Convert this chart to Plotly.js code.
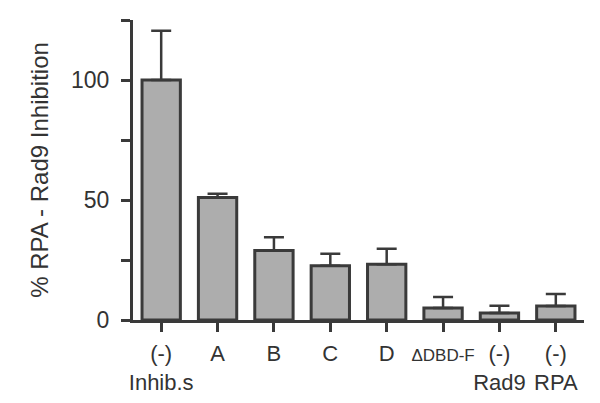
<!DOCTYPE html>
<html>
<head>
<meta charset="utf-8">
<script src="https://cdn.plot.ly/plotly-3.0.1.min.js"></script>
<style>
  html, body { margin: 0; padding: 0; background: #fff; }
  #chart { width: 600px; height: 403px; }
</style>
</head>
<body>
<div id="chart"></div>
<script>
// bar categories and values
var categories = ['inhib', 'A', 'B', 'C', 'D', 'dDBDF', 'rad9', 'rpa'];
var tick_labels = ['(-)<br>Inhib.s', 'A', 'B', 'C', 'D',
                   '<span style="font-size:17px">\u0394DBD-F</span>',
                   '(-)<br>Rad9', '(-)<br>RPA'];
var inhibition = [100, 51, 29, 22.6, 23.2, 5, 2.9, 5.8];
var error_up = [20.5, 1.6, 5.5, 5.0, 6.5, 4.6, 3.0, 5.0];
var error_down = [0, 0, 0, 0, 0, 0, 0, 0];

var dark = '#3a3a3a';

var bars = {
    type: 'bar',
    x: categories,
    y: inhibition,
    width: 0.68,
    marker: { color: '#adadad', line: { color: dark, width: 3 } },
    error_y: {
        type: 'data', symmetric: false,
        array: error_up, arrayminus: error_down,
        color: dark, thickness: 2.5, width: 10
    },
    hoverinfo: 'none'
};

var layout = {
    width: 600, height: 403,
    margin: { l: 133, r: 16, t: 20, b: 83 },
    paper_bgcolor: '#fff', plot_bgcolor: '#fff',
    showlegend: false,
    font: { family: 'Liberation Sans, Arial, sans-serif', color: '#333' },
    xaxis: {
        type: 'category',
        tickvals: categories, ticktext: tick_labels,
        range: [-0.5, 7.5],
        tickangle: 0,
        showline: true, linecolor: dark, linewidth: 3,
        ticks: 'outside', ticklen: 9, tickwidth: 3, tickcolor: dark,
        tickfont: { size: 22, color: '#333' },
        ticklabelstandoff: 3,
        showgrid: false, zeroline: false
    },
    yaxis: {
        range: [0, 125],
        tickvals: [0, 25, 50, 75, 100, 125],
        ticktext: ['0', '', '50', '', '100', ''],
        showline: true, linecolor: dark, linewidth: 3,
        ticks: 'outside', ticklen: 9, tickwidth: 3, tickcolor: dark,
        tickfont: { size: 23, color: '#333' },
        ticklabelstandoff: 7,
        showgrid: false, zeroline: false,
        title: { text: '% RPA - Rad9 Inhibition', font: { size: 24, color: '#333' }, standoff: 16 }
    }
};

Plotly.newPlot('chart', [bars], layout, { displayModeBar: false, staticPlot: true });
</script>
</body>
</html>
